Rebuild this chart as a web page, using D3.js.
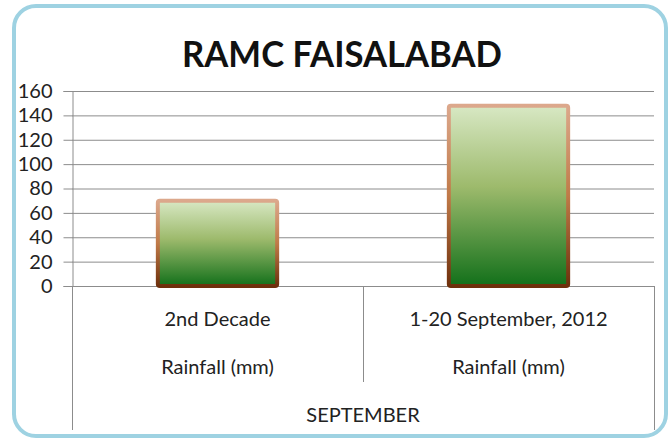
<!DOCTYPE html>
<html>
<head>
<meta charset="utf-8">
<script src="https://cdn.jsdelivr.net/npm/d3@7"></script>
<style>
  body { margin: 0; background: #fff; }
  svg text { font-family: Lato, "Open Sans", sans-serif; fill: #222; }
</style>
</head>
<body>
<div id="chart"></div>
<script>
// data
const categories = ["2nd Decade", "1-20 September, 2012"]
const subLabels = ["Rainfall (mm)", "Rainfall (mm)"]
const groupLabel = "SEPTEMBER"
const rainfall = [70, 148]
const yTicks = [0, 20, 40, 60, 80, 100, 120, 140, 160]
const title = "RAMC FAISALABAD"

const WIDTH = 672
const HEIGHT = 440
const plot = { left: 72, right: 654, top: 91, bottom: 286 }

const svg = d3.select("#chart")
  .append("svg")
  .attr("width", WIDTH)
  .attr("height", HEIGHT)

const defs = svg.append("defs")

const fillGrad = defs.append("linearGradient")
  .attr("id", "barFill")
  .attr("x1", 0).attr("y1", 0).attr("x2", 0).attr("y2", 1)
fillGrad.append("stop").attr("offset", "0%").attr("stop-color", "#d8e8c4")
fillGrad.append("stop").attr("offset", "45%").attr("stop-color", "#9dba6c")
fillGrad.append("stop").attr("offset", "100%").attr("stop-color", "#12701a")

const strokeGrad = defs.append("linearGradient")
  .attr("id", "barStroke")
  .attr("x1", 0).attr("y1", 0).attr("x2", 0).attr("y2", 1)
strokeGrad.append("stop").attr("offset", "0%").attr("stop-color", "#dca88c")
strokeGrad.append("stop").attr("offset", "50%").attr("stop-color", "#c07a48")
strokeGrad.append("stop").attr("offset", "100%").attr("stop-color", "#6e300c")

// outer rounded frame
svg.append("rect")
  .attr("x", 14).attr("y", 6)
  .attr("width", 652).attr("height", 430)
  .attr("rx", 22)
  .attr("fill", "#fff")
  .attr("stroke", "#9ed2e2")
  .attr("stroke-width", 4)

svg.append("text")
  .attr("x", 342)
  .attr("y", 67)
  .attr("text-anchor", "middle")
  .attr("textLength", 320)
  .attr("lengthAdjust", "spacingAndGlyphs")
  .style("font-size", "36px")
  .style("font-weight", "bold")
  .style("fill", "#111")
  .text(title)

const x = d3.scaleBand()
  .domain(categories)
  .range([plot.left, plot.right])
  .paddingInner(0)
  .paddingOuter(0)

const y = d3.scaleLinear()
  .domain([0, 160])
  .range([plot.bottom, plot.top])

// gridlines
svg.append("g")
  .selectAll("line")
  .data(yTicks)
  .enter()
  .append("line")
  .attr("x1", plot.left)
  .attr("x2", plot.right)
  .attr("y1", d => y(d) + 0.5)
  .attr("y2", d => y(d) + 0.5)
  .attr("stroke", "#8c8c8c")
  .attr("stroke-width", 1)

// y axis
const yAxis = svg.append("g")
  .attr("transform", `translate(${plot.left + 0.5},0)`)
  .call(d3.axisLeft(y).tickValues(yTicks).tickSize(9).tickPadding(11))
yAxis.select(".domain").attr("stroke", "#8c8c8c")
yAxis.selectAll(".tick line").attr("stroke", "#8c8c8c")
yAxis.selectAll(".tick text")
  .style("font-size", "20px")
  .style("font-family", "Lato, sans-serif")
  .attr("fill", "#222")

// bars
const barW = x.bandwidth() * 0.41
svg.append("g")
  .selectAll("rect")
  .data(rainfall)
  .enter()
  .append("rect")
  .attr("x", (d, i) => x(categories[i]) + (x.bandwidth() - barW) / 2)
  .attr("y", d => y(d))
  .attr("width", barW)
  .attr("height", d => y(0) - y(d))
  .attr("rx", 2)
  .attr("fill", "url(#barFill)")
  .attr("stroke", "url(#barStroke)")
  .attr("stroke-width", 4)

// category separators
const sepX = [plot.left, x(categories[1]), plot.right]
svg.append("g")
  .selectAll("line")
  .data(sepX)
  .enter()
  .append("line")
  .attr("x1", d => d + 0.5)
  .attr("x2", d => d + 0.5)
  .attr("y1", plot.bottom)
  .attr("y2", (d, i) => i === 1 ? 382 : 430)
  .attr("stroke", "#8c8c8c")

// category labels
const labels = svg.append("g")
categories.forEach((c, i) => {
  const cx = x(c) + x.bandwidth() / 2
  labels.append("text")
    .attr("x", cx).attr("y", 326)
    .attr("text-anchor", "middle")
    .style("font-size", "20px")
    .text(c)
  labels.append("text")
    .attr("x", cx).attr("y", 374)
    .attr("text-anchor", "middle")
    .style("font-size", "20px")
    .text(subLabels[i])
})

labels.append("text")
  .attr("x", (plot.left + plot.right) / 2)
  .attr("y", 422)
  .attr("text-anchor", "middle")
  .style("font-size", "20px")
  .text(groupLabel)
</script>
</body>
</html>
